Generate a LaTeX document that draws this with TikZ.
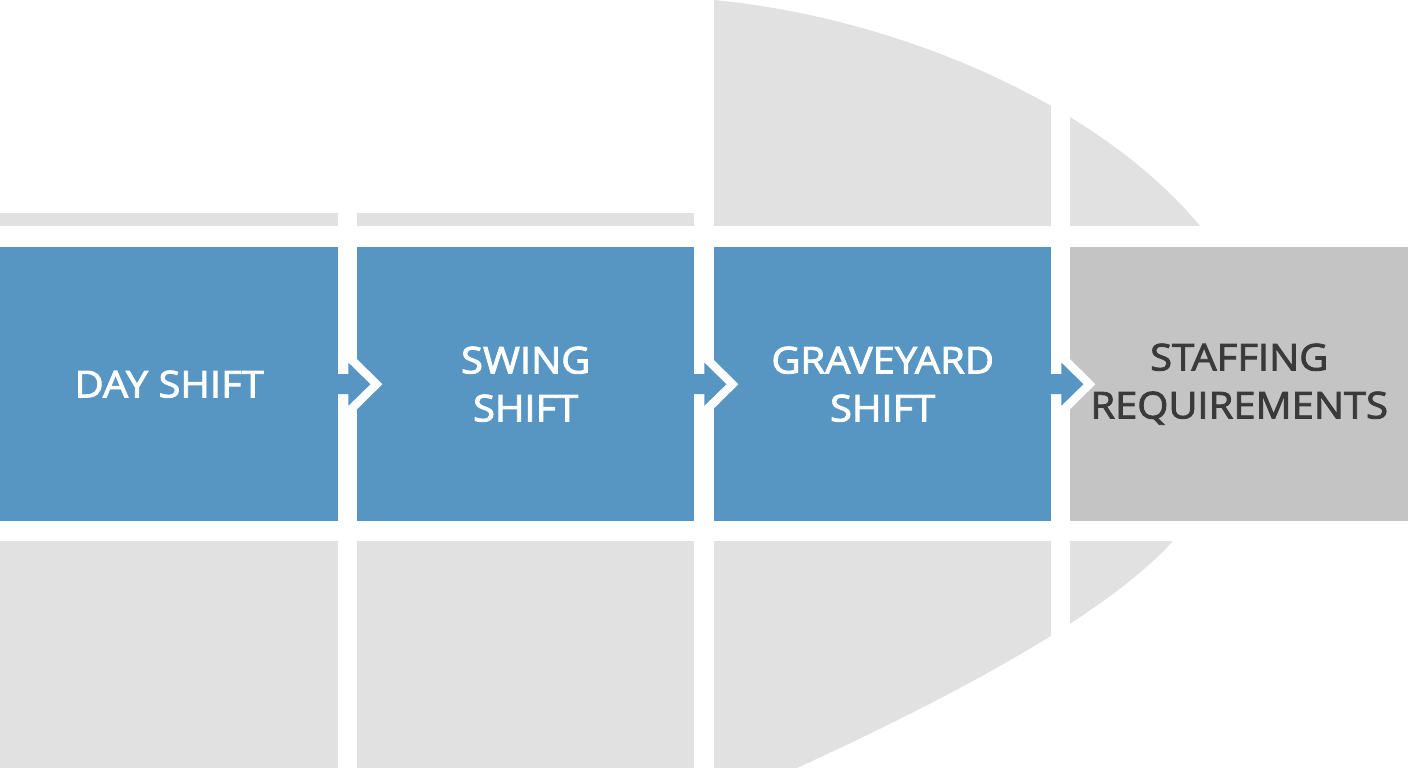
\documentclass[tikz,border=0pt]{standalone}
\usepackage{fontspec}
\setmainfont{Open Sans}[FakeBold=2.4, FakeStretch=1.08]
\usetikzlibrary{calc}
\definecolor{shiftblue}{HTML}{5795C2}
\definecolor{lightgray}{HTML}{E1E1E1}
\definecolor{boxgray}{HTML}{C4C4C4}
\definecolor{darktext}{HTML}{3A3A3A}
\tikzset{
  stagebox/.style={rectangle, inner sep=0pt, minimum width=337pt, minimum height=274pt, anchor=north west, align=center, font=\fontsize{37}{48}\selectfont},
  bluebox/.style={stagebox, fill=shiftblue, text=white},
  graybox/.style={stagebox, fill=boxgray, text=darktext},
  bgfill/.style={fill=lightgray},
  gapfill/.style={fill=white}
}
\newcommand{\stagearrow}[1]{%
  \fill[white] ($(#1.east)+(10,-33.5)$) -- ($(#1.east)+(44,0)$) -- ($(#1.east)+(10,33.5)$) -- cycle;
  \fill[shiftblue] ($(#1.east)+(-1,-10)$) -- ($(#1.east)+(10,-10)$) -- ($(#1.east)+(10,-21.5)$) -- ($(#1.east)+(32,0)$) -- ($(#1.east)+(10,21.5)$) -- ($(#1.east)+(10,10)$) -- ($(#1.east)+(-1,10)$) -- cycle;
}
\begin{document}
\begin{tikzpicture}[x=1pt, y=-1pt]
\useasboundingbox (0,0) rectangle (1408,768);
\begin{scope}
\clip (0,0) rectangle (1408,768);
% light gray background shapes
\fill[bgfill] (0,213) rectangle (714,226);
\fill[bgfill] (714,-5) -- (714,0) .. controls (900,18) and (1100,105) .. (1200,226) -- (714,226) -- cycle;
\fill[bgfill] (0,541) -- (1173,541) .. controls (1120,600) and (1000,675) .. (797,768) -- (0,768) -- cycle;
% white gaps
\fill[gapfill] (338,0) rectangle (357,768);
\fill[gapfill] (694,0) rectangle (714,768);
\fill[gapfill] (1051,0) rectangle (1070,768);
\fill[gapfill] (0,226) rectangle (1408,247);
\fill[gapfill] (0,521) rectangle (1408,541);
\end{scope}
% stage boxes
\node[bluebox, minimum width=338pt] (day) at (0,247) {DAY SHIFT};
\node[bluebox] (swing) at (357,247) {SWING\\SHIFT};
\node[bluebox] (grave) at (714,247) {GRAVEYARD\\SHIFT};
\node[graybox, minimum width=338pt] (staff) at (1070,247) {STAFFING\\REQUIREMENTS};
% connectors
\stagearrow{day}
\stagearrow{swing}
\stagearrow{grave}
\end{tikzpicture}
\end{document}
